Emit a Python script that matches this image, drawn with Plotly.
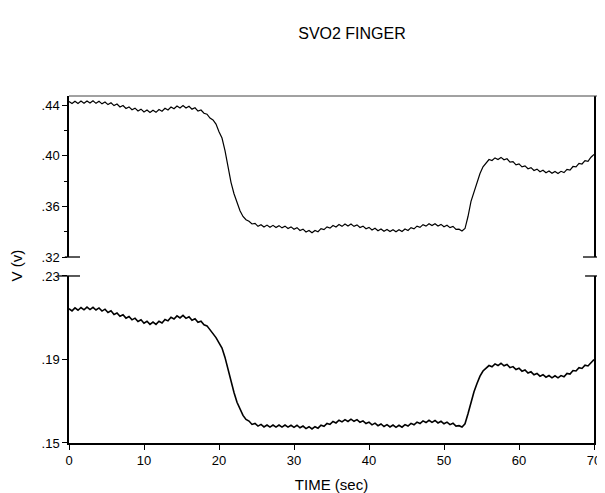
import plotly.graph_objects as go

# Sample times (s): regular 0.4 s sampling from 0 to 70 s
time_sec = [round(0.4 * i, 1) for i in range(176)]

# Upper trace (V)
upper_v = [
    .4429, .4412, .4431, .4413, .4432, .4415, .4433, .4416, .4434, .4414,
    .4430, .4410, .4425, .4404, .4418, .4396, .4409, .4385, .4397, .4373,
    .4386, .4363, .4376, .4354, .4368, .4346, .4361, .4341, .4359, .4343,
    .4365, .4352, .4375, .4362, .4385, .4371, .4393, .4378, .4397, .4377,
    .4391, .4368, .4379, .4353, .4361, .4336, .4328, .4298, .4283, .4250,
    .4190, .4140, .4040, .3900, .3790, .3700, .3626, .3565, .3520, .3495,
    .3483, .3461, .3466, .3442, .3455, .3437, .3452, .3435, .3450, .3433,
    .3448, .3430, .3444, .3425, .3438, .3419, .3432, .3410, .3420, .3398,
    .3410, .3392, .3410, .3400, .3424, .3416, .3438, .3428, .3449, .3437,
    .3456, .3442, .3460, .3445, .3460, .3442, .3454, .3433, .3444, .3423,
    .3434, .3414, .3427, .3408, .3422, .3404, .3418, .3401, .3416, .3399,
    .3415, .3401, .3421, .3410, .3432, .3422, .3444, .3434, .3456, .3444,
    .3463, .3448, .3463, .3445, .3458, .3439, .3451, .3432, .3442, .3418,
    .3420, .3405, .3425, .3520, .3640, .3720, .3794, .3860, .3913, .3940,
    .3970, .3962, .3983, .3970, .3987, .3968, .3976, .3950, .3954, .3928,
    .3936, .3912, .3920, .3897, .3906, .3883, .3894, .3873, .3885, .3866,
    .3879, .3861, .3876, .3860, .3877, .3867, .3892, .3887, .3915, .3912,
    .3940, .3935, .3961, .3956, .3988, .4010,
]

# Lower trace (V)
lower_v = [
    .2143, .2133, .2147, .2136, .2149, .2138, .2151, .2139, .2150, .2137,
    .2147, .2132, .2141, .2125, .2133, .2116, .2123, .2107, .2114, .2098,
    .2106, .2090, .2098, .2082, .2090, .2074, .2083, .2068, .2079, .2068,
    .2083, .2075, .2092, .2085, .2102, .2094, .2109, .2099, .2111, .2097,
    .2105, .2088, .2095, .2078, .2083, .2066, .2061, .2042, .2026, .2005,
    .1980, .1955, .1910, .1849, .1790, .1742, .1695, .1660, .1632, .1613,
    .1605, .1589, .1594, .1581, .1589, .1577, .1586, .1576, .1586, .1576,
    .1586, .1576, .1586, .1576, .1585, .1575, .1585, .1573, .1581, .1569,
    .1578, .1567, .1578, .1571, .1585, .1580, .1594, .1589, .1603, .1596,
    .1609, .1601, .1612, .1603, .1614, .1604, .1612, .1599, .1606, .1593,
    .1600, .1587, .1595, .1583, .1591, .1579, .1588, .1577, .1586, .1575,
    .1585, .1576, .1588, .1581, .1594, .1587, .1600, .1593, .1606, .1598,
    .1609, .1599, .1608, .1596, .1604, .1592, .1600, .1588, .1595, .1581,
    .1583, .1577, .1592, .1640, .1700, .1745, .1785, .1820, .1845, .1858,
    .1871, .1865, .1879, .1871, .1882, .1870, .1876, .1861, .1866, .1852,
    .1858, .1844, .1850, .1835, .1841, .1827, .1833, .1820, .1827, .1815,
    .1823, .1812, .1822, .1812, .1823, .1817, .1833, .1830, .1847, .1845,
    .1861, .1857, .1873, .1869, .1887, .1900,
]

x_ticks = [0, 10, 20, 30, 40, 50, 60, 70]
upper_ticks = [0.32, 0.36, 0.40, 0.44]
upper_labels = [".32", ".36", ".40", ".44"]
upper_minor = [0.34, 0.38, 0.42]
lower_ticks = [0.15, 0.19, 0.23]
lower_labels = [".15", ".19", ".23"]

FONT = "Liberation Sans, Arial, sans-serif"

# The page body has an 8px margin, so the figure is sized to fit the window.
W, H = 597, 485

fig = go.Figure()
fig.add_trace(go.Scatter(x=time_sec, y=lower_v, mode="lines",
                         line=dict(color="black", width=1.6),
                         xaxis="x", yaxis="y", showlegend=False))
fig.add_trace(go.Scatter(x=time_sec, y=upper_v, mode="lines",
                         line=dict(color="black", width=1.2),
                         xaxis="x2", yaxis="y2", showlegend=False))

axis_font = dict(family=FONT, size=13, color="black")

fig.update_layout(
    width=W, height=H,
    margin=dict(l=61, r=11, t=88, b=50, autoexpand=False),
    paper_bgcolor="white", plot_bgcolor="white",
    font=dict(family=FONT, color="black"),
    title=dict(text="SVO2 FINGER", x=344 / W, xanchor="center",
               y=1 - 25 / H, yanchor="middle", automargin=False,
               font=dict(family=FONT, size=16, color="black")),
    xaxis=dict(domain=[0, 1], range=[0, 70], tickvals=x_ticks,
               ticks="outside", ticklen=5, tickwidth=1.2, tickcolor="black",
               showline=True, linecolor="black", linewidth=1.5,
               showgrid=False, zeroline=False, tickfont=axis_font,
               automargin=False,
               title=dict(text="TIME (sec)", standoff=14,
                          font=dict(family=FONT, size=15, color="black")),
               anchor="y"),
    yaxis=dict(domain=[0, 0.4813], range=[0.15, 0.23],
               tickvals=lower_ticks, ticktext=lower_labels,
               ticks="outside", ticklen=5, tickwidth=1.2, tickcolor="black",
               showline=True, linecolor="black", linewidth=1.5, mirror=True,
               showgrid=False, zeroline=False, tickfont=axis_font,
               automargin=False, anchor="x"),
    xaxis2=dict(domain=[0, 1], range=[0, 70], visible=False, anchor="y2",
                matches="x", automargin=False),
    yaxis2=dict(domain=[0.536, 1], range=[0.32, 0.4472],
                tickvals=upper_ticks, ticktext=upper_labels,
                ticks="outside", ticklen=5, tickwidth=1.2, tickcolor="black",
                minor=dict(tickvals=upper_minor, ticks="outside", ticklen=3,
                           tickcolor="black", showgrid=False),
                showline=True, linecolor="black", linewidth=1.5, mirror=True,
                showgrid=False, zeroline=False, tickfont=axis_font,
                automargin=False, anchor="x2"),
)

# Top border of the upper panel
fig.add_shape(type="line", xref="paper", yref="paper", x0=0, x1=1.01,
              y0=1, y1=1, line=dict(color="#444", width=1))
# Axis-break marks
for (x0, x1, y0) in [(-0.008, 0.021, 0.536), (-0.021, 0.021, 0.4813),
                     (0.979, 1.017, 0.536), (0.983, 1.017, 0.4813)]:
    fig.add_shape(type="line", xref="paper", yref="paper", x0=x0, x1=x1,
                  y0=y0, y1=y0, line=dict(color="black", width=1.3))

fig.add_annotation(text="V (v)", xref="paper", yref="paper",
                   x=-0.10, y=0.51, textangle=-90, showarrow=False,
                   xanchor="center", yanchor="middle",
                   font=dict(family=FONT, size=15, color="black"))

fig.write_html("out.html")
